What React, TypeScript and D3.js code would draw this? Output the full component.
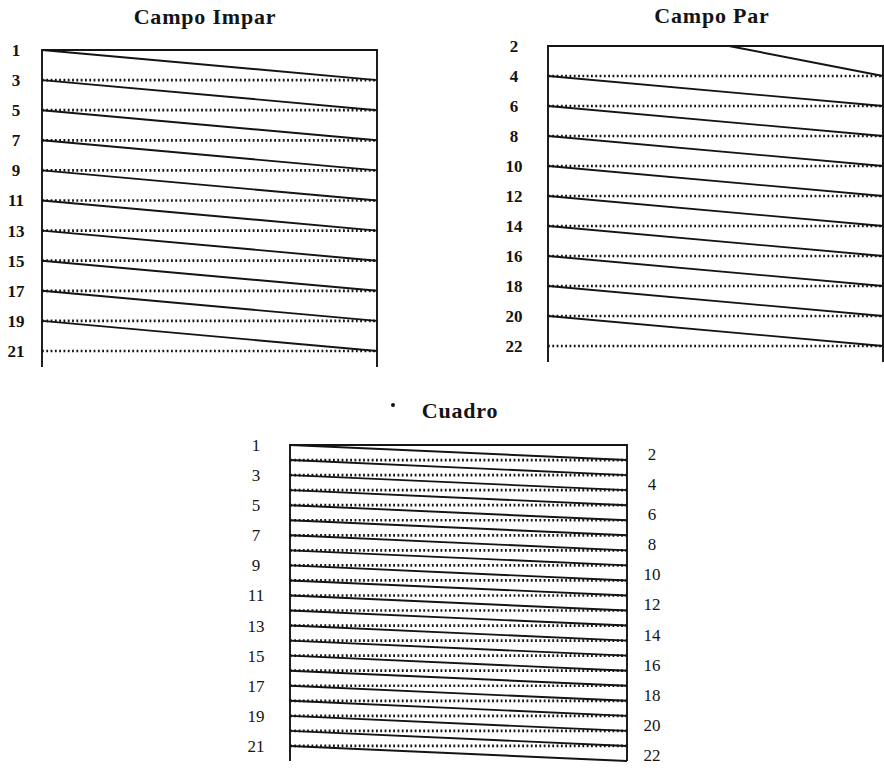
import React from "react";
import * as d3 from "d3";

// Scan line numbers of each field and of the full frame
const oddLines = [1, 3, 5, 7, 9, 11, 13, 15, 17, 19, 21];
const evenLines = [2, 4, 6, 8, 10, 12, 14, 16, 18, 20, 22];
const frameLines = [1, 2, 3, 4, 5, 6, 7, 8, 9, 10, 11, 12, 13, 14, 15, 16, 17, 18, 19, 20, 21, 22];
// the even field begins with a half line (fraction of the line width)
const evenFieldStart = 0.54;
const titles = ["Campo Impar", "Campo Par", "Cuadro"];

const INK = "#141414";
const FONT = "'Liberation Serif', 'Times New Roman', serif";

type Seg = { x0: number; l0: number; l1: number };

function Field({
  x,
  y,
  segs,
  dotted,
  top,
  bottom,
}: {
  x: d3.ScaleLinear<number, number>;
  y: d3.ScaleLinear<number, number>;
  segs: Seg[];
  dotted: number[];
  top: number;
  bottom: number;
}) {
  const line = d3
    .line<[number, number]>()
    .x((d) => x(d[0]))
    .y((d) => y(d[1]));
  return (
    <g>
      {/* frame of the raster */}
      <path
        d={`M${x(0)},${bottom}V${y(top)}H${x(1)}V${bottom}`}
        fill="none"
        stroke={INK}
        strokeWidth={1.9}
      />
      {/* retrace (dotted) */}
      {dotted.map((n) => (
        <path
          key={"d" + n}
          d={line([
            [0, n],
            [1, n],
          ]) as string}
          fill="none"
          stroke={INK}
          strokeWidth={2.7}
          strokeDasharray="1.8 2.5"
        />
      ))}
      {/* active scan (solid, sloping) */}
      {segs.map((s, i) => (
        <path
          key={"s" + i}
          d={line([
            [s.x0, s.l0],
            [1, s.l1],
          ]) as string}
          fill="none"
          stroke={INK}
          strokeWidth={1.9}
        />
      ))}
    </g>
  );
}

export default function App() {
  // Campo Impar
  const xOdd = d3.scaleLinear().domain([0, 1]).range([42, 377]);
  const yOdd = d3.scaleLinear().domain([1, 21]).range([50, 351]);
  const oddSegs: Seg[] = oddLines.slice(0, -1).map((n, i) => ({ x0: 0, l0: n, l1: oddLines[i + 1] }));

  // Campo Par
  const xEven = d3.scaleLinear().domain([0, 1]).range([548, 883]);
  const yEven = d3.scaleLinear().domain([2, 22]).range([46, 346]);
  const evenSegs: Seg[] = evenLines.slice(0, -1).map((n, i) => ({
    x0: i === 0 ? evenFieldStart : 0,
    l0: n,
    l1: evenLines[i + 1],
  }));

  // Cuadro
  const xFrame = d3.scaleLinear().domain([0, 1]).range([290, 627]);
  const yFrame = d3.scaleLinear().domain([1, 22]).range([445, 761]);
  const frameSegs: Seg[] = frameLines.slice(0, -1).map((n, i) => ({ x0: 0, l0: n, l1: frameLines[i + 1] }));
  const frameOdd = frameLines.filter((n) => n % 2 === 1);
  const frameEven = frameLines.filter((n) => n % 2 === 0);

  const labelStyle = { fontFamily: FONT, fill: INK } as const;

  return (
    <svg
      width={884}
      height={777}
      viewBox="0 0 884 777"
      style={{ position: "absolute", left: 0, top: 0, background: "#fff" }}
    >
      <rect width={884} height={777} fill="#fff" />

      {/* titles */}
      <g style={{ fontFamily: FONT, fontWeight: 700, fontSize: 22, letterSpacing: 0.8 }} fill={INK} textAnchor="middle">
        <text x={205} y={24}>{titles[0]}</text>
        <text x={712} y={23}>{titles[1]}</text>
        <text x={460} y={418}>{titles[2]}</text>
      </g>
      <circle cx={393} cy={405} r={2} fill={INK} />

      {/* Campo Impar */}
      <Field x={xOdd} y={yOdd} segs={oddSegs} dotted={oddLines.slice(1)} top={oddLines[0]} bottom={367} />
      {oddLines.map((n) => (
        <text key={"lo" + n} x={16} y={yOdd(n)} dy="0.35em" textAnchor="middle" fontSize={17} fontWeight={700} {...labelStyle}>
          {n}
        </text>
      ))}

      {/* Campo Par */}
      <Field x={xEven} y={yEven} segs={evenSegs} dotted={evenLines.slice(1)} top={evenLines[0]} bottom={362} />
      {evenLines.map((n) => (
        <text key={"le" + n} x={514} y={yEven(n)} dy="0.35em" textAnchor="middle" fontSize={17} fontWeight={700} {...labelStyle}>
          {n}
        </text>
      ))}

      {/* Cuadro */}
      <Field
        x={xFrame}
        y={yFrame}
        segs={frameSegs}
        dotted={frameLines.slice(1, -1)}
        top={frameLines[0]}
        bottom={yFrame(frameLines[frameLines.length - 1])}
      />
      {frameOdd.map((n) => (
        <text key={"fo" + n} x={256} y={yFrame(n)} dy="0.35em" textAnchor="middle" fontSize={17} {...labelStyle}>
          {n}
        </text>
      ))}
      {frameEven.map((n) => (
        <text key={"fe" + n} x={652} y={yFrame(n) - 6} dy="0.35em" textAnchor="middle" fontSize={17} {...labelStyle}>
          {n}
        </text>
      ))}
    </svg>
  );
}
